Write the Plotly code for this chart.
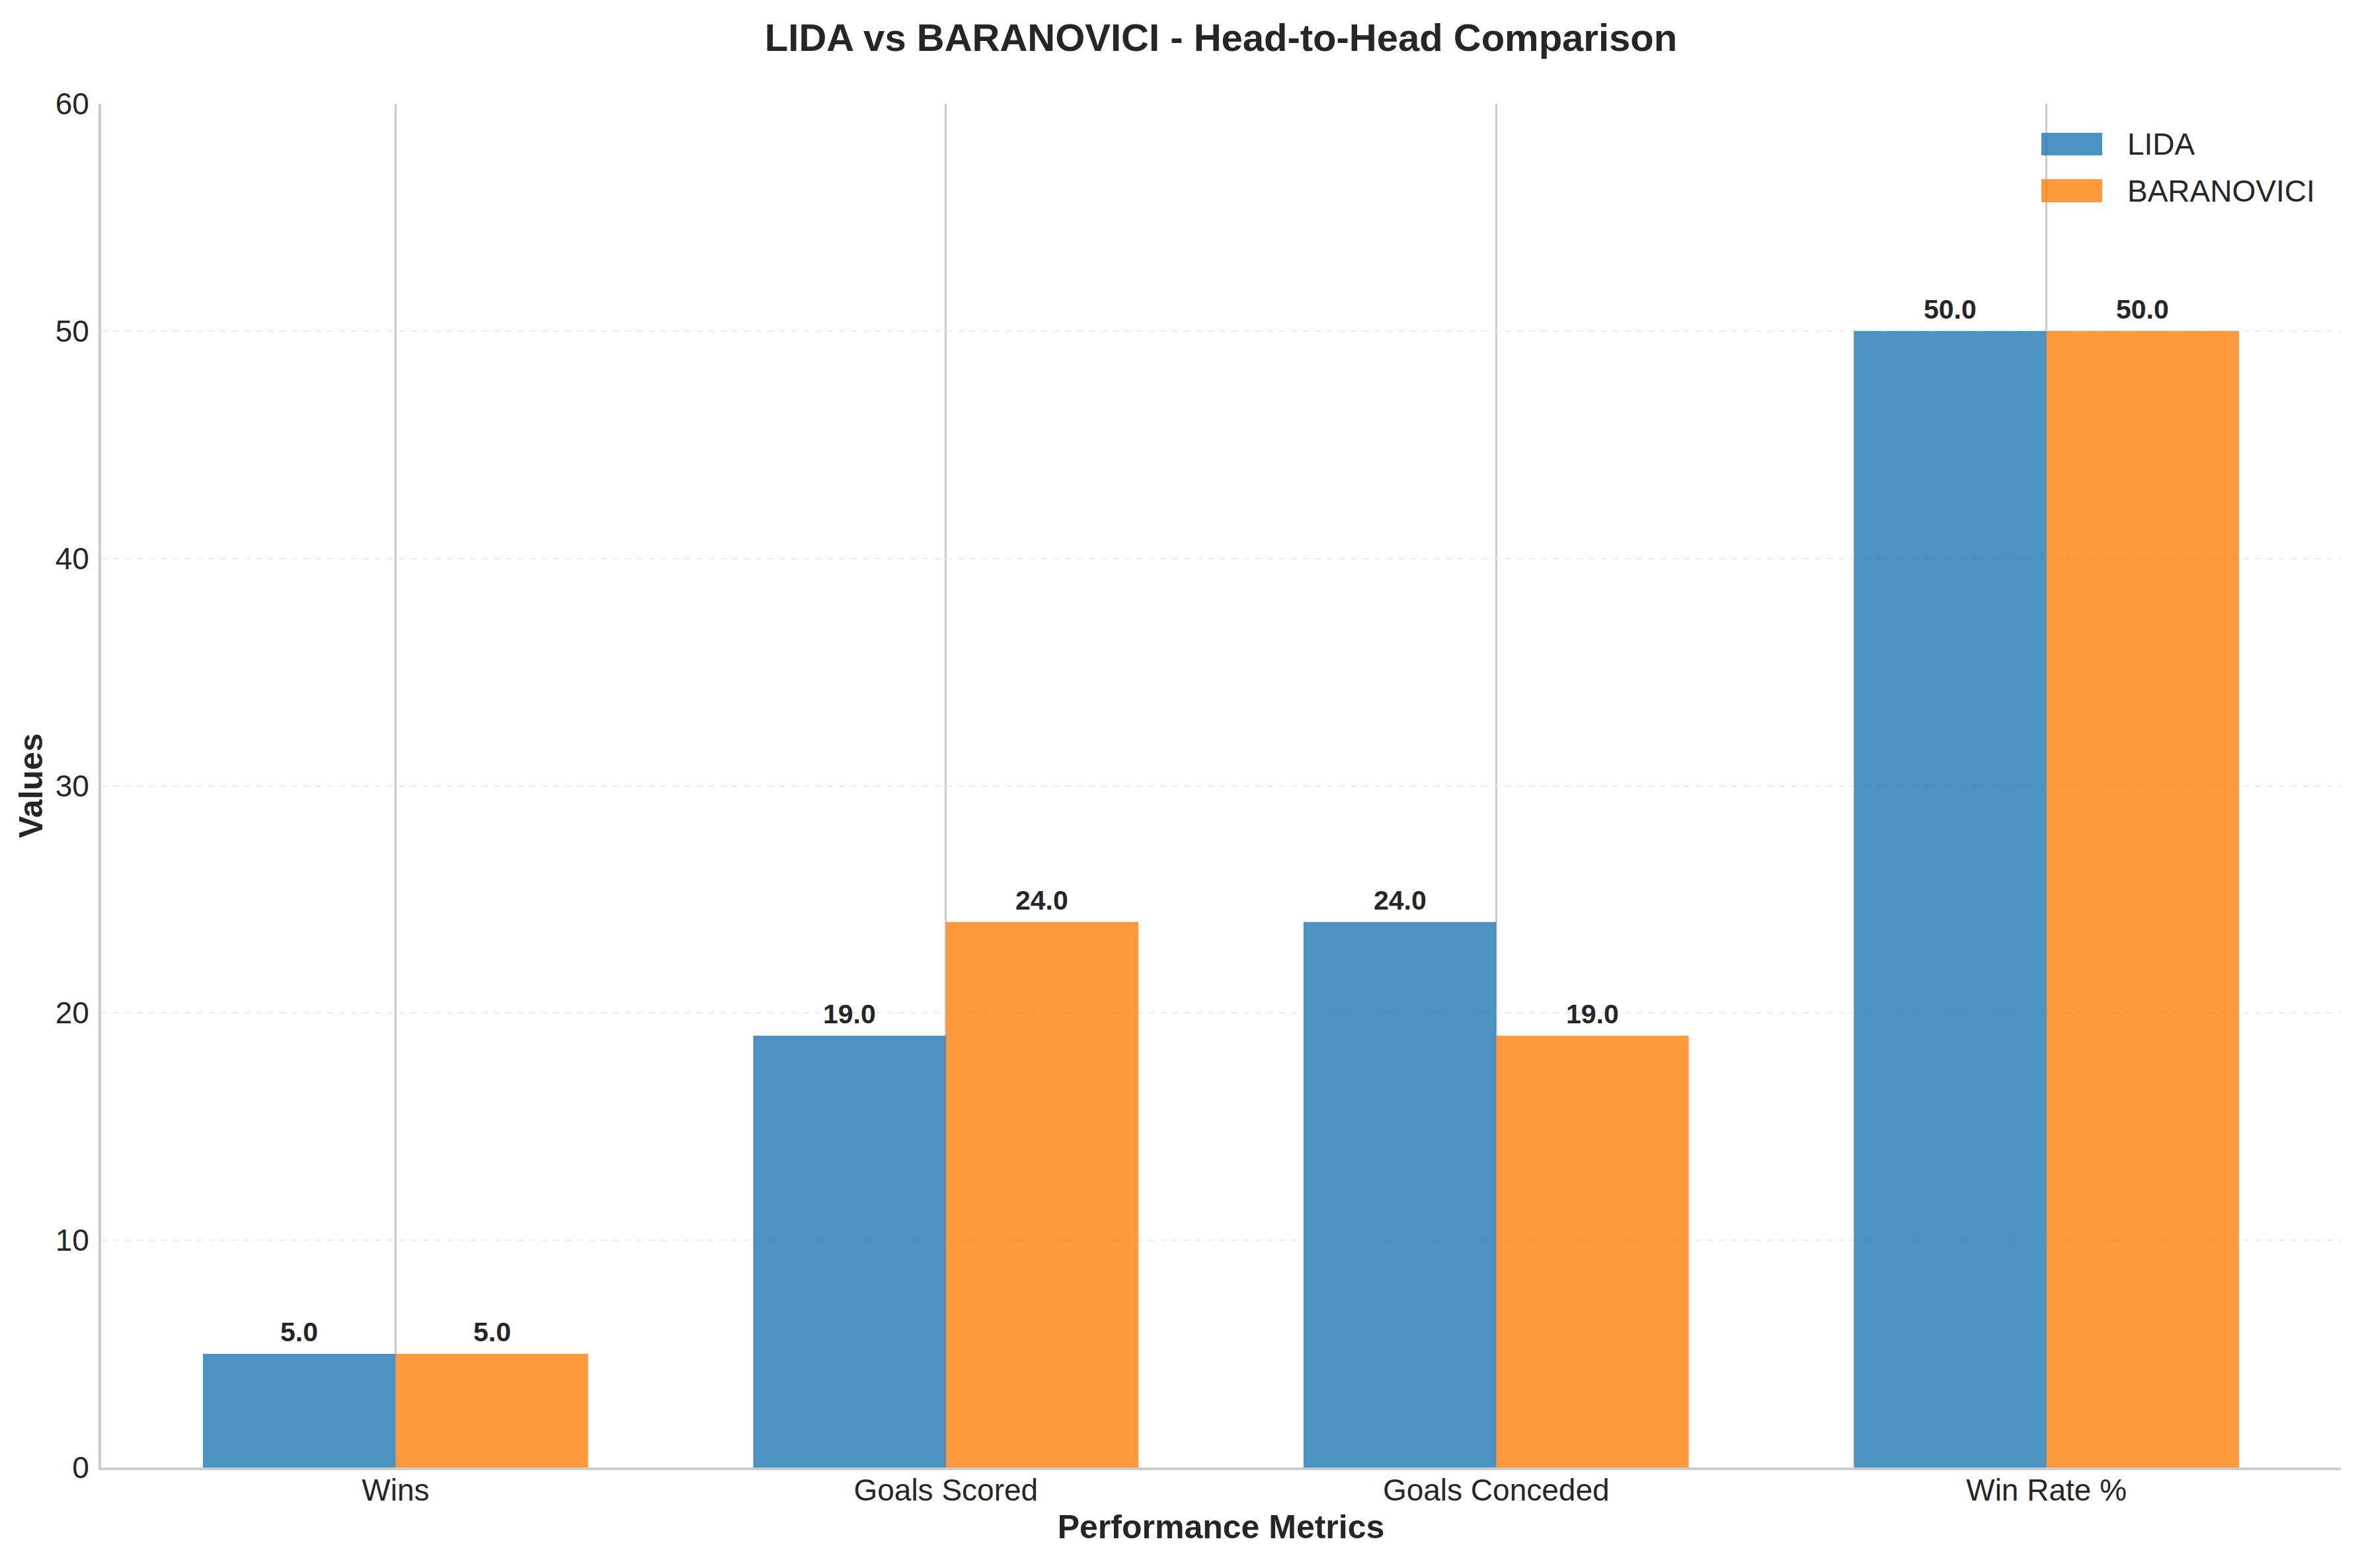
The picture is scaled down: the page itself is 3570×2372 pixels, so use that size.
import plotly.graph_objects as go

categories = ["Wins", "Goals Scored", "Goals Conceded", "Win Rate %"]
lida_values = [5.0, 19.0, 24.0, 50.0]
baranovici_values = [5.0, 24.0, 19.0, 50.0]
team_names = ["LIDA", "BARANOVICI"]
y_ticks = [0, 10, 20, 30, 40, 50, 60]

W, H = 3570, 2372
L, R, T, B = 153, 29, 157, 152
plot_w = W - L - R
plot_h = H - T - B

FONT = "Liberation Sans, Arial, sans-serif"
TXT = "#262626"
colors = ["rgba(31,119,180,0.8)", "rgba(255,127,14,0.8)"]

fig = go.Figure()
for name, vals, col in zip(team_names, [lida_values, baranovici_values], colors):
    fig.add_trace(go.Bar(x=categories, y=vals, name=name, marker=dict(color=col, line=dict(width=0)),
                         showlegend=False))

# value labels
xr = [-0.535, 3.535]
px_per_cat = plot_w / (xr[1] - xr[0])
bar_w = 0.35
for i, vals in enumerate([lida_values, baranovici_values]):
    shift = (-bar_w / 2 if i == 0 else bar_w / 2) * px_per_cat
    for c, v in zip(categories, vals):
        fig.add_annotation(x=c, y=v, xref="x", yref="y", text=f"<b>{v:.1f}</b>", showarrow=False,
                           xshift=shift, yshift=8, yanchor="bottom", xanchor="center",
                           font=dict(family=FONT, size=41, color=TXT))

# manual legend (large swatches)
def px_to_paper_x(px):
    return (px - L) / plot_w

def px_to_paper_y(py):
    return (H - B - py) / plot_h

legend_rows = [(201, 235), (271, 306)]
for (y0, y1), name, col in zip(legend_rows, team_names, colors):
    fig.add_shape(type="rect", xref="paper", yref="paper",
                  x0=px_to_paper_x(3088), x1=px_to_paper_x(3180),
                  y0=px_to_paper_y(y1), y1=px_to_paper_y(y0),
                  fillcolor=col, line=dict(width=0), layer="above")
    fig.add_annotation(xref="paper", yref="paper", x=px_to_paper_x(3216), y=px_to_paper_y((y0 + y1) / 2),
                       text=name, showarrow=False, xanchor="left", yanchor="middle",
                       font=dict(family=FONT, size=46, color=TXT))

fig.update_layout(
    width=W, height=H,
    margin=dict(l=L, r=R, t=T, b=B, pad=0),
    paper_bgcolor="white", plot_bgcolor="white",
    barmode="group", bargap=0.3, bargroupgap=0,
    showlegend=False,
    title=dict(text="<b>LIDA vs BARANOVICI - Head-to-Head Comparison</b>",
               x=0.5, xref="paper", y=1 - 57 / H, yref="container", yanchor="middle", xanchor="center",
               font=dict(family=FONT, size=58, color=TXT)),
    font=dict(family=FONT, color=TXT),
)
fig.update_xaxes(
    type="category", range=xr,
    showgrid=True, gridcolor="#cccccc", gridwidth=3,
    showline=True, linecolor="#cccccc", linewidth=4,
    ticks="", tickfont=dict(family=FONT, size=46, color=TXT), ticklabelstandoff=-9,
    title=dict(text="<b>Performance Metrics</b>", font=dict(family=FONT, size=50, color=TXT), standoff=14),
    zeroline=False,
)
fig.update_yaxes(
    range=[0, 60], tickvals=y_ticks,
    showgrid=True, gridcolor="#ebebeb", gridwidth=2, griddash="dash",
    showline=True, linecolor="#cccccc", linewidth=4,
    ticks="", tickfont=dict(family=FONT, size=46, color=TXT), ticklabelstandoff=5,
    title=dict(text="<b>Values</b>", font=dict(family=FONT, size=50, color=TXT), standoff=4),
    zeroline=False,
)

fig.write_html("out.html")
